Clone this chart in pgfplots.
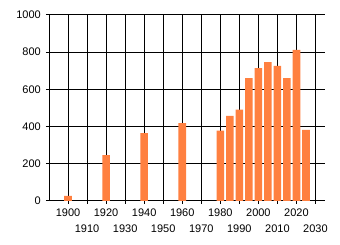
\documentclass[border=0pt]{standalone}
\usepackage{pgfplots}
\pgfplotsset{compat=1.18}
\usepackage{fontspec}
\setmainfont{Liberation Sans}
\definecolor{barorange}{RGB}{255,128,64}
\begin{document}
\begin{tikzpicture}
\begin{axis}[
  at={(0pt,0pt)}, anchor=south west,
  scale only axis, width=276pt, height=186pt,
  xmin=1890, xmax=2035, ymin=0, ymax=1000,
  axis x line*=bottom, axis y line*=left,
  axis line style={line width=1pt, black},
  every tick/.style={line width=1pt, black},
  major tick length=3pt, tick align=outside,
  grid=major, major grid style={line width=1pt, black},
  xtick={1900,1920,1940,1960,1980,2000,2020},
  extra x ticks={1910,1930,1950,1970,1990,2010,2030},
  extra x tick style={x tick label style={yshift=-16pt}},
  ytick={0,200,400,600,800,1000},
  font=\fontsize{11pt}{13pt}\selectfont,
  /pgf/number format/assume math mode=true,
  /pgf/number format/1000 sep={},
  x tick label style={anchor=base, yshift=-13pt, inner sep=0pt},
  y tick label style={anchor=east, inner sep=0pt, xshift=-5pt},
  ybar, bar width=4, bar shift=0pt,
]
\addplot[fill=barorange, draw=none] coordinates {
  (1900,27) (1920,247) (1940,365) (1960,419)
  (1980,378) (1985,457) (1990,491) (1995,661) (2000,715)
  (2005,747) (2010,727) (2015,661) (2020,812) (2025,382)
};
\end{axis}
\pgfresetboundingbox
\path[use as bounding box] (-49pt,-44pt) rectangle (291pt,201pt);
\end{tikzpicture}
\end{document}
